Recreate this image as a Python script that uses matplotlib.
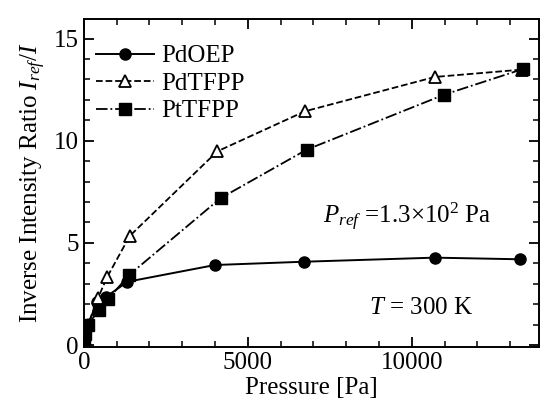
import numpy as np
import matplotlib.pyplot as plt
from matplotlib.ticker import MultipleLocator

pdoep_p = [13, 40, 130, 400, 670, 1330, 4000, 6700, 10700, 13300]
pdoep = [0.35, 0.6, 1.0, 2.1, 2.35, 3.1, 3.92, 4.08, 4.28, 4.2]
pdtfpp_p = [13, 40, 130, 430, 720, 1400, 4070, 6740, 10700, 13350]
pdtfpp = [0.3, 0.6, 1.0, 2.3, 3.35, 5.34, 9.48, 11.44, 13.12, 13.48]
pttfpp_p = [13, 40, 130, 460, 740, 1380, 4170, 6790, 10980, 13390]
pttfpp = [0.3, 0.55, 1.0, 1.72, 2.25, 3.43, 7.19, 9.56, 12.25, 13.51]

plt.rcParams['font.family'] = ['Liberation Serif', 'DejaVu Serif']
plt.rcParams['mathtext.fontset'] = 'custom'
plt.rcParams['mathtext.it'] = 'Liberation Serif:italic'
plt.rcParams['mathtext.rm'] = 'Liberation Serif'

fig = plt.figure(figsize=(5.44, 4.07), dpi=100)
ax = fig.add_axes([0.154, 0.147, 0.837, 0.806])

ax.plot(pdoep_p, pdoep, 'k-', marker='o', ms=8, lw=1.4, label='PdOEP')
ax.plot(pdtfpp_p, pdtfpp, 'k--', marker='^', ms=8, mfc='white', mew=1.3, lw=1.3, label='PdTFPP')
ax.plot(pttfpp_p, pttfpp, 'k-.', marker='s', ms=8, lw=1.3, label='PtTFPP')

ax.set_xlim(0, 13880)
ax.set_ylim(-0.1, 15.95)
ax.xaxis.set_major_locator(MultipleLocator(5000))
ax.xaxis.set_minor_locator(MultipleLocator(1000))
ax.yaxis.set_major_locator(MultipleLocator(5))
ax.yaxis.set_minor_locator(MultipleLocator(1))
ax.tick_params(which='both', direction='in', top=True, right=True, labelsize=18)
ax.tick_params(which='major', length=7, width=1.3)
ax.tick_params(which='minor', length=4, width=1.1)
for s in ax.spines.values():
    s.set_linewidth(1.4)

ax.set_xlabel('Pressure [Pa]', fontsize=18, labelpad=2)
ax.set_ylabel('Inverse Intensity Ratio $I_{ref}/I$', fontsize=18, labelpad=4)

ax.text(7300, 6.3, '$P_{ref}$ =1.3×10$^2$ Pa', fontsize=18, va='center')
ax.text(8700, 1.8, '$T$ = 300 K', fontsize=18, va='center')

ax.legend(loc='upper left', frameon=False, fontsize=18, handlelength=2.3,
          handletextpad=0.3, labelspacing=0.2, borderaxespad=0.1,
          bbox_to_anchor=(0.0, 0.96))

fig.savefig('out.png', dpi=100)
